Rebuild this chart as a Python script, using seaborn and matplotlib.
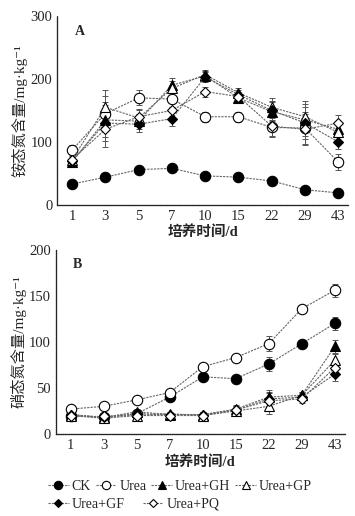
import numpy as np
import pandas as pd
import matplotlib
matplotlib.use("Agg")
import matplotlib.pyplot as plt
import seaborn as sns

days = ["1", "3", "5", "7", "10", "15", "22", "29", "43"]
treatments = ["CK", "Urea", "Urea+GH", "Urea+GP", "Urea+GF", "Urea+PQ"]

# panel A: ammonium N (mg/kg)
nh4_ck = [33, 44, 56, 58, 46, 44, 38, 24, 19]
nh4_urea = [87, 145, 170, 168, 140, 140, 123, 122, 68]
nh4_gh = [68, 135, 133, 190, 205, 170, 148, 135, 120]
nh4_gp = [72, 155, 138, 185, 207, 178, 155, 140, 115]
nh4_gf = [70, 130, 128, 137, 203, 175, 150, 130, 100]
nh4_pq = [72, 120, 140, 150, 180, 172, 125, 120, 130]
nh4_err = [8, 28, 12, 12, 8, 8, 15, 25, 12]
nh4_ck_err = [2, 3, 3, 3, 2, 2, 2, 2, 2]

# panel B: nitrate N (mg/kg)
no3_ck = [20, 18, 22, 40, 62, 60, 76, 98, 120]
no3_urea = [27, 30, 37, 45, 73, 83, 98, 136, 156]
no3_gh = [21, 18, 24, 21, 21, 27, 40, 42, 95]
no3_gp = [20, 17, 20, 22, 20, 25, 30, 42, 80]
no3_gf = [21, 18, 22, 21, 21, 26, 38, 40, 65]
no3_pq = [19, 19, 20, 20, 20, 26, 36, 38, 72]
no3_err = [2, 2, 2, 2, 3, 4, 8, 4, 7]

styles = {
    "CK": ("o", "black"),
    "Urea": ("o", "white"),
    "Urea+GH": ("^", "black"),
    "Urea+GP": ("^", "white"),
    "Urea+GF": ("D", "black"),
    "Urea+PQ": ("D", "white"),
}


def draw(ax, series, errs, ylim, yticks, ylabel, tag):
    x = np.arange(len(days))
    for name, vals, err in zip(treatments, series, errs):
        m, fc = styles[name]
        ms = 5.5 if m == "D" else 7.5
        ax.errorbar(x, vals, yerr=err, fmt="none", ecolor="#555555",
                    elinewidth=0.7, capsize=2.5, capthick=0.7, zorder=1)
        sns.lineplot(x=x, y=vals, ax=ax, color="#666666", linestyle=(0, (2, 1)),
                     linewidth=0.8, marker=m, markersize=ms, markerfacecolor=fc,
                     markeredgecolor="black", markeredgewidth=0.8, label=name,
                     zorder=3)
    ax.set_xlim(-0.45, 8.3)
    ax.set_ylim(*ylim)
    ax.set_yticks(yticks)
    ax.set_xticks(x)
    ax.set_xticklabels(days)
    ax.set_xlabel("培养时间/d", fontsize=10.5, fontweight="bold", labelpad=2)
    ax.set_ylabel(ylabel, fontsize=11, labelpad=2)
    ax.tick_params(labelsize=10.5, direction="in", length=2)
    ax.text(0.06, 0.9, tag, transform=ax.transAxes, fontsize=10, fontweight="bold")
    for s in ["top", "right"]:
        ax.spines[s].set_visible(False)
    for s in ["left", "bottom"]:
        ax.spines[s].set_linestyle((0, (1, 0.5)))
        ax.spines[s].set_linewidth(0.9)
    ax.get_legend().remove()


def main():
    sns.set_style("white")
    plt.rcParams["font.family"] = ["Liberation Serif", "Noto Sans CJK SC", "DejaVu Sans"]

    fig = plt.figure(figsize=(3.55, 5.16), dpi=100)
    ax1 = fig.add_axes([0.161, 0.603, 0.82, 0.366])
    ax2 = fig.add_axes([0.157, 0.159, 0.814, 0.357])

    errs_a = [nh4_ck_err] + [nh4_err] * 5
    errs_b = [no3_err] * 6
    draw(ax1, [nh4_ck, nh4_urea, nh4_gh, nh4_gp, nh4_gf, nh4_pq], errs_a,
         (0, 300), [0, 100, 200, 300], "铵态氮含量/mg·kg⁻¹", "A")
    draw(ax2, [no3_ck, no3_urea, no3_gh, no3_gp, no3_gf, no3_pq], errs_b,
         (0, 200), [0, 50, 100, 150, 200], "硝态氮含量/mg·kg⁻¹", "B")

    handles, labels = ax2.get_legend_handles_labels()
    lookup = dict(zip(labels, handles))
    row1 = ["CK", "Urea", "Urea+GH", "Urea+GP"]
    row2 = ["Urea+GF", "Urea+PQ"]
    kw = dict(loc="center left", frameon=False, fontsize=10, handlelength=1.5,
              handletextpad=0.2, columnspacing=0.35, markerscale=0.8,
              borderpad=0, borderaxespad=0)
    fig.legend([lookup[k] for k in row1], row1, ncol=4,
               bbox_to_anchor=(0.135, 1 - 486 / 516), **kw)
    fig.legend([lookup[k] for k in row2], row2, ncol=2,
               bbox_to_anchor=(0.135, 1 - 504 / 516),
               **{**kw, "columnspacing": 1.3})

    fig.savefig("out.png", dpi=100)


if __name__ == "__main__":
    main()
